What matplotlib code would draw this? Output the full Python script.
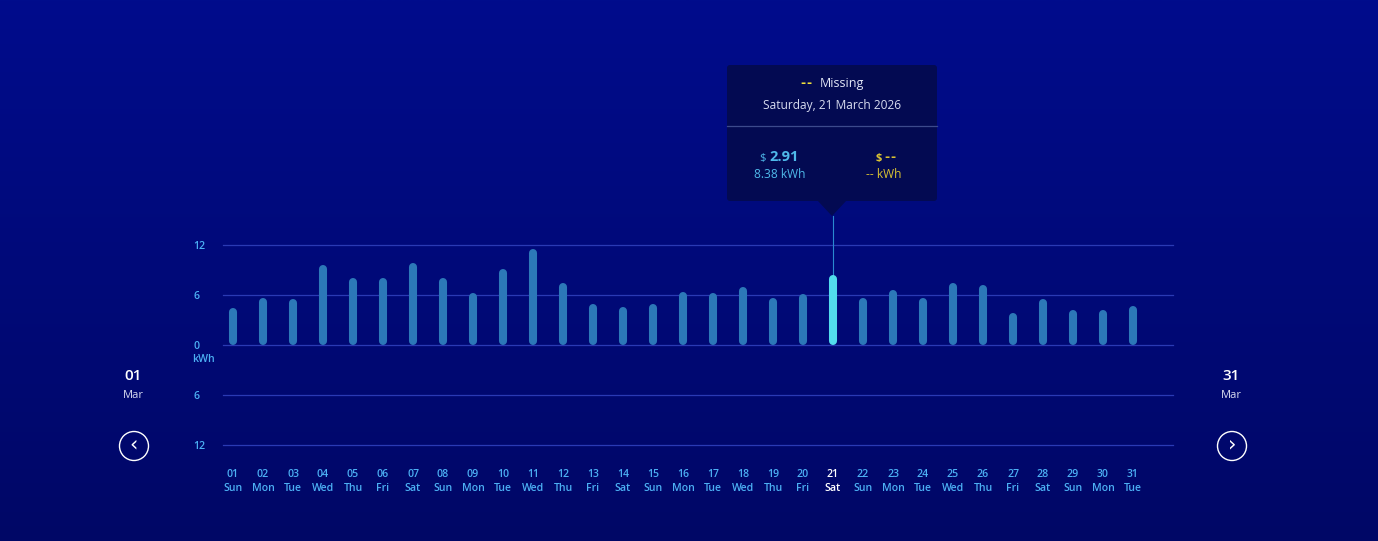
"""
plot.py
Daily energy use for March 2026 as rounded bars on a dark blue
gradient, with the hover tooltip for 21 March drawn on top.
"""
import numpy as np
import matplotlib
matplotlib.use("Agg")
import matplotlib.pyplot as plt
from matplotlib.patches import FancyBboxPatch, Polygon, Circle

#data
DAYS = list(range(1, 32))
WEEKDAYS = ["Sun", "Mon", "Tue", "Wed", "Thu", "Fri", "Sat"] * 4 + ["Sun", "Mon", "Tue"]
KWH = [4.5, 5.7, 5.5, 9.6, 8.0, 8.0, 9.9, 8.1, 6.2, 9.1,
       11.5, 7.5, 4.9, 4.6, 4.9, 6.4, 6.3, 7.0, 5.6, 6.1,
       8.38, 5.7, 6.6, 5.6, 7.5, 7.2, 3.8, 5.5, 4.2, 4.2, 4.7]
Y_TICKS = [-12, -6, 0, 6, 12]
Y_LABELS = ["12", "6", "0", "6", "12"]
SELECTED_DAY = 21
TIP_COST = "2.91"
TIP_DATE = "Saturday, 21 March 2026"

#colours
BG_TOP = (0 / 255, 12 / 255, 140 / 255)
BG_BOTTOM = (0 / 255, 7 / 255, 102 / 255)
BAR_COLOR = "#2c78b8"
SEL_COLOR = "#52dced"
GRID_COLOR = "#2a3ab4"
TICK_COLOR = "#4cb0f4"
TIP_BG = "#030a52"
YELLOW = "#f2e13c"
GOLD = "#d9c233"
CYAN = "#4fb9ea"

W, H = 1378, 541
FONT = "Open Sans"

fig = plt.figure(figsize=(W / 100, H / 100), dpi=100)

#background gradient, in pixel coordinates
bg = fig.add_axes([0, 0, 1, 1])
bg.set_xlim(0, W)
bg.set_ylim(H, 0)
bg.axis("off")
t = np.linspace(0, 1, 256)[:, None]
grad = np.array(BG_TOP) * (1 - t[..., None]) + np.array(BG_BOTTOM) * t[..., None]
grad = np.repeat(grad, 2, axis=1)
bg.imshow(grad, extent=[0, W, H, 0], aspect="auto", zorder=0)

#main chart axes: x pixels 223..1173, y pixels 245..445
ax = fig.add_axes([223 / W, 1 - 445 / H, 950 / W, 200 / H])
ax.set_facecolor("none")
ax.set_xlim(1 - 10 / 30, 1 + 940 / 30)
ax.set_ylim(-12, 12)
for s in ax.spines.values():
    s.set_visible(False)
for y in Y_TICKS:
    ax.axhline(y, color=GRID_COLOR, linewidth=0.9, zorder=1, clip_on=False)

#rounded bars: round caps extend half the width (4 px = 0.48 kWh)
cap = 4 / (200 / 24)
for d, v in zip(DAYS, KWH):
    c = SEL_COLOR if d == SELECTED_DAY else BAR_COLOR
    ax.plot([d, d], [cap, v - cap], color=c, linewidth=5.8,
            solid_capstyle="round", zorder=3)

#hover line from the selected bar up to the tooltip pointer
sel_val = KWH[DAYS.index(SELECTED_DAY)]
ax.plot([SELECTED_DAY, SELECTED_DAY], [sel_val, 15.5], color="#2a8ad0",
        linewidth=0.8, clip_on=False, zorder=2)

ax.set_xticks(DAYS)
ax.set_xticklabels([f"{d:02d}\n{w}" for d, w in zip(DAYS, WEEKDAYS)],
                   fontsize=7.6, family=FONT, linespacing=1.4)
for lbl, d in zip(ax.get_xticklabels(), DAYS):
    lbl.set_color("white" if d == SELECTED_DAY else TICK_COLOR)
    lbl.set_fontweight("semibold")
ax.set_yticks(Y_TICKS)
ax.set_yticklabels(Y_LABELS, fontsize=7.6, family=FONT, color=TICK_COLOR,
                   fontweight="semibold")
for lbl in ax.get_yticklabels():
    lbl.set_horizontalalignment("left")
ax.tick_params(axis="x", length=0, pad=17)
ax.tick_params(axis="y", length=0, pad=21.6)
bg.text(192, 360, "kWh", color=TICK_COLOR, fontsize=7.6, family=FONT,
        fontweight="semibold", ha="left", va="center")

#side date labels and navigation buttons
for xc, day, arrow in [(133, "01", "‹"), (1231, "31", "›")]:
    bg.text(xc, 376, day, color="white", fontsize=11, family=FONT,
            fontweight="semibold", ha="center", va="center")
    bg.text(xc, 395, "Mar", color="#d8dcf0", fontsize=8, family=FONT,
            ha="center", va="center")
    bg.add_patch(Circle((xc + 1, 446), 14.5, fill=False, edgecolor="white",
                        linewidth=1.0))
    bg.text(xc + 1, 444, arrow, color="white", fontsize=15, family="DejaVu Sans",
            ha="center", va="center")


def dashes(x, y, color):
    """two short separated dashes, as the tooltip shows for missing values"""
    for dx in (0, 6):
        bg.text(x + dx, y, "-", color=color, fontsize=9, family="DejaVu Sans",
                fontweight="bold", ha="center", va="center", zorder=7)


#tooltip
bg.add_patch(FancyBboxPatch((727, 65), 210, 136,
                            boxstyle="round,pad=0,rounding_size=3",
                            facecolor=TIP_BG, edgecolor="none", zorder=5))
bg.add_patch(Polygon([(817, 200), (847, 200), (832, 216)], closed=True,
                     facecolor=TIP_BG, edgecolor="none", zorder=5))
bg.plot([727, 937], [126, 126], color="#3c4a8c", linewidth=0.9, zorder=6)
dashes(803, 83, YELLOW)
bg.text(820, 84, "Missing", color="#e2e6f6", fontsize=9, family=FONT,
        ha="left", va="center", zorder=7)
bg.text(832, 105, TIP_DATE, color="#d8dcf0", fontsize=8.6, family=FONT,
        ha="center", va="center", zorder=7)
bg.text(766, 158, "$", color=CYAN, fontsize=8, family=FONT,
        ha="right", va="center", zorder=7)
bg.text(769, 157, TIP_COST, color=CYAN, fontsize=10.5, family=FONT,
        fontweight="bold", ha="left", va="center", zorder=7)
bg.text(780, 175, f"{sel_val:.2f} kWh", color=CYAN, fontsize=8.6, family=FONT,
        ha="center", va="center", zorder=7)
bg.text(882, 158, "$", color=GOLD, fontsize=8, family=FONT, fontweight="bold",
        ha="right", va="center", zorder=7)
dashes(887, 158, GOLD)
bg.text(884, 175, "-- kWh", color=GOLD, fontsize=8.6, family=FONT,
        ha="center", va="center", zorder=7)

fig.savefig("out.png", dpi=100)
